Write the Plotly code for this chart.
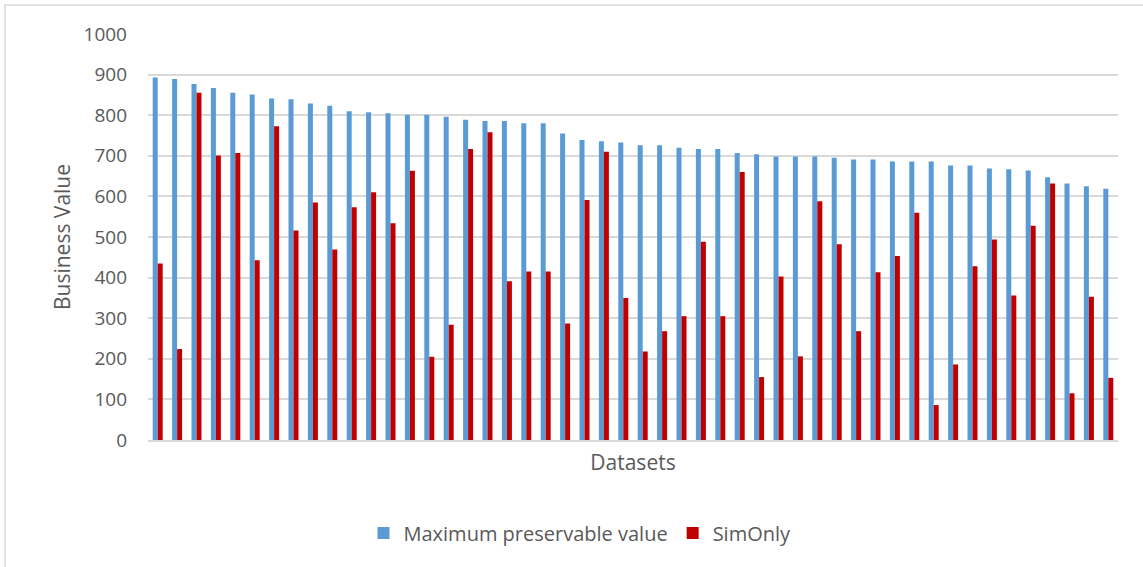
import plotly.graph_objects as go

# Business value per dataset, sorted by the maximum preservable value
datasets = [f"D{i}" for i in range(1, 51)]

max_preservable = [
    893, 889, 877, 867, 855, 851, 841, 839, 829, 823,
    810, 807, 805, 801, 801, 796, 789, 786, 786, 780,
    780, 755, 739, 736, 733, 726, 726, 720, 717, 717,
    707, 704, 698, 698, 698, 695, 691, 691, 686, 686,
    686, 676, 676, 669, 667, 664, 647, 632, 625, 619,
]

sim_only = [
    435, 224, 855, 701, 707, 443, 773, 516, 585, 469,
    573, 610, 534, 663, 205, 284, 717, 758, 391, 415,
    415, 287, 591, 710, 350, 218, 268, 305, 488, 305,
    660, 155, 403, 206, 588, 482, 268, 413, 453, 560,
    86, 186, 428, 494, 356, 528, 632, 115, 353, 153,
]

y_ticks = [0, 100, 200, 300, 400, 500, 600, 700, 800, 900, 1000]

TEXT = "#595959"
GRID = "#d9d9d9"
FONT = "Open Sans"

fig = go.Figure()
fig.add_trace(go.Bar(
    x=datasets, y=max_preservable, name="Maximum preservable value",
    marker=dict(color="#5B9BD5", line=dict(width=0)),
))
fig.add_trace(go.Bar(
    x=datasets, y=sim_only, name="SimOnly",
    marker=dict(color="#C00000", line=dict(width=0)),
))

W, H = 1143, 567
L, R, T, B = 148, 25, 34, 127
pw, ph = W - L - R, H - T - B


def px_x(p):
    return (p - L) / pw


def px_y(p):
    return (H - B - p) / ph


fig.update_layout(
    width=W, height=H,
    margin=dict(l=L, r=R, t=T, b=B, pad=0),
    paper_bgcolor="white", plot_bgcolor="white",
    barmode="group", bargap=0.485, bargroupgap=0,
    font=dict(family=FONT, color=TEXT),
    showlegend=True,
    legend=dict(
        orientation="h", x=px_x(580), xanchor="center",
        y=px_y(533), yanchor="middle",
        font=dict(size=20, color=TEXT, family=FONT),
        itemwidth=30, traceorder="normal",
    ),
    xaxis=dict(
        showticklabels=False, ticks="", showgrid=False,
        showline=True, linecolor=GRID, linewidth=1.5,
        title=dict(text="Datasets", font=dict(size=21, color=TEXT, family=FONT),
                   standoff=15),
    ),
    yaxis=dict(
        range=[0, 1000], tickvals=y_ticks, ticktext=[str(v) for v in y_ticks],
        showgrid=True, gridcolor=GRID, gridwidth=1.5,
        zeroline=False, showline=False, ticks="",
        ticklabelstandoff=20,
        tickfont=dict(size=19, color=TEXT, family=FONT),
        title=dict(text="Business Value", font=dict(size=21, color=TEXT, family=FONT),
                   standoff=7),
    ),
    shapes=[
        dict(type="rect", xref="paper", yref="paper",
             x0=px_x(5), x1=px_x(W + 10), y0=px_y(H + 10), y1=px_y(5),
             line=dict(color="#d9d9d9", width=1.5), fillcolor="rgba(0,0,0,0)",
             layer="below"),
    ],
)

fig.write_html("out.html")
